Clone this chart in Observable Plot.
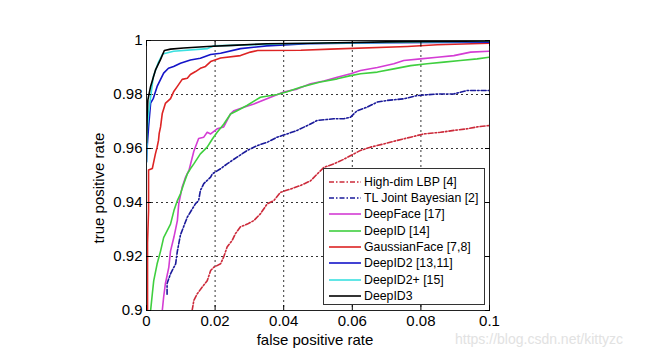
<!DOCTYPE html>
<html>
<head>
<meta charset="utf-8">
<script src="https://cdn.jsdelivr.net/npm/d3@7"></script>
<script src="https://cdn.jsdelivr.net/npm/@observablehq/plot@0.6"></script>
<style>
  html, body { margin: 0; padding: 0; background: #fff; }
  #wrap { position: relative; width: 653px; height: 357px; overflow: hidden; font-family: "Liberation Sans", Arial, sans-serif; }
  .lbl { position: absolute; font-size: 15px; color: #000; white-space: nowrap; }
  #legend { position: absolute; left: 323px; top: 168px; width: 162px; height: 137px; border: 1px solid #333; background: #fff; box-sizing: border-box; }
  .row { position: absolute; left: 0; height: 16px; font-size: 12.3px; line-height: 16px; white-space: nowrap; }
  .row svg { position: absolute; left: 5px; top: 0; }
  .row span { position: absolute; left: 40px; top: 0; }
  #wm { position: absolute; left: 455px; top: 331px; font-size: 14px; color: #e2e2e2; white-space: nowrap; }
</style>
</head>
<body>
<div id="wrap"></div>
<script>
// ---- data ----
const xTicks = [0, 0.02, 0.04, 0.06, 0.08, 0.1];
const yTicks = [0.9, 0.92, 0.94, 0.96, 0.98, 1];

const seriesNames = ["High-dim LBP [4]", "TL Joint Bayesian [2]", "DeepFace [17]", "DeepID [14]",
  "GaussianFace [7,8]", "DeepID2 [13,11]", "DeepID2+ [15]", "DeepID3"];
const seriesColors = ["#cc2a3a", "#1a1a9a", "#d43cd4", "#3fcf3f", "#dd2424", "#1414c8", "#3ae0e0", "#000000"];
const seriesDash = ["5,2,1.5,2", "5,2,1.5,2", null, null, null, null, null, null];

const highDimLBP = [[0.0133,0.9],[0.0138,0.9037],[0.0148,0.9062],[0.0162,0.9086],[0.0177,0.911],[0.0187,0.9148],
  [0.0196,0.916],[0.0216,0.9173],[0.0225,0.9198],[0.0235,0.9235],[0.025,0.926],[0.0259,0.9284],[0.0274,0.931],
  [0.0294,0.932],[0.0313,0.9333],[0.0332,0.9358],[0.0352,0.9395],[0.0371,0.9407],[0.0391,0.9438],[0.042,0.945],
  [0.0449,0.9463],[0.0478,0.948],[0.0498,0.9506],[0.0517,0.953],[0.0546,0.9543],[0.0575,0.956],[0.0624,0.9593],
  [0.0653,0.9605],[0.0692,0.9617],[0.0731,0.963],[0.077,0.9642],[0.0808,0.9654],[0.0857,0.966],[0.0896,0.9667],
  [0.0935,0.9673],[0.0964,0.968],[0.1,0.9685]];

const tlJointBayesian = [[0.006,0.906],[0.006,0.91],[0.007,0.9136],[0.0085,0.9173],[0.009,0.922],[0.0099,0.928],
  [0.0119,0.9346],[0.0143,0.9396],[0.0152,0.9407],[0.0157,0.9444],[0.0167,0.947],[0.0187,0.9494],[0.0192,0.9506],
  [0.0216,0.9525],[0.0235,0.9543],[0.0264,0.9568],[0.0294,0.9593],[0.0323,0.9611],[0.0352,0.9623],[0.0381,0.9642],
  [0.041,0.9654],[0.0439,0.9667],[0.0469,0.9685],[0.0498,0.9704],[0.0546,0.971],[0.0575,0.971],[0.0595,0.9716],
  [0.0614,0.974],[0.0643,0.9753],[0.0673,0.9772],[0.0702,0.9778],[0.075,0.9784],[0.0789,0.9796],[0.0848,0.9802],
  [0.0896,0.9802],[0.0935,0.9815],[0.1,0.9815]];

const deepFace = [[0.0046,0.9],[0.005,0.905],[0.0055,0.9099],[0.0065,0.916],[0.007,0.922],[0.008,0.9272],
  [0.009,0.9333],[0.0094,0.9395],[0.0104,0.9457],[0.0114,0.9494],[0.0124,0.952],[0.0128,0.954],[0.0138,0.959],
  [0.0152,0.9637],[0.0167,0.9642],[0.0177,0.966],[0.0187,0.9654],[0.0206,0.9673],[0.0225,0.968],[0.0245,0.9728],
  [0.0255,0.974],[0.0284,0.9753],[0.0313,0.9765],[0.0362,0.979],[0.04,0.9809],[0.0439,0.982],[0.0478,0.984],
  [0.0517,0.985],[0.0556,0.9864],[0.0595,0.9877],[0.0624,0.9889],[0.0673,0.99],[0.0721,0.9914],[0.075,0.9926],
  [0.0799,0.9932],[0.0848,0.9938],[0.0896,0.9944],[0.0945,0.9957],[0.1,0.996]];

const deepID = [[0.0012,0.9],[0.0017,0.9062],[0.0021,0.911],[0.0031,0.9173],[0.0041,0.922],[0.005,0.927],
  [0.007,0.932],[0.008,0.937],[0.009,0.9407],[0.0099,0.9432],[0.0109,0.947],[0.0119,0.9506],[0.0128,0.9525],
  [0.0138,0.9543],[0.0157,0.958],[0.0177,0.9605],[0.0192,0.9635],[0.0206,0.966],[0.0225,0.969],[0.0245,0.9728],
  [0.0264,0.974],[0.0294,0.976],[0.0332,0.979],[0.0381,0.980],[0.041,0.981],[0.0449,0.9827],[0.0507,0.9846],
  [0.0556,0.9858],[0.0595,0.987],[0.0624,0.9877],[0.0673,0.9883],[0.0721,0.9895],[0.077,0.9907],[0.0818,0.9914],
  [0.0867,0.992],[0.0915,0.9926],[0.0964,0.9932],[0.1,0.9938]];

const gaussianFace = [[0.0003,0.9],[0.0003,0.925],[0.0006,0.937],[0.0006,0.952],[0.0017,0.9526],[0.002,0.9544],
  [0.0026,0.958],[0.0031,0.9605],[0.0035,0.963],[0.0037,0.9656],[0.0041,0.968],[0.0046,0.973],[0.0055,0.9767],
  [0.007,0.9785],[0.0079,0.981],[0.009,0.983],[0.0104,0.9856],[0.0119,0.986],[0.0128,0.9874],[0.0143,0.9885],
  [0.0157,0.9897],[0.0172,0.9904],[0.0187,0.9922],[0.0216,0.9935],[0.0274,0.9944],[0.0303,0.9957],[0.0324,0.9963],
  [0.045,0.9964],[0.0536,0.9968],[0.0761,0.9978],[0.0848,0.9984],[0.1,0.999]];

const deepID2 = [[0,0.955],[0.0002,0.9607],[0.0006,0.968],[0.0012,0.9768],[0.002,0.9786],[0.0031,0.983],
  [0.0041,0.9856],[0.005,0.9879],[0.0064,0.9897],[0.0079,0.9904],[0.0099,0.9916],[0.0128,0.9928],[0.0157,0.9934],
  [0.0187,0.9948],[0.0216,0.9953],[0.0274,0.997],[0.035,0.998],[0.0469,0.9988],[0.07,0.9992],[0.1,0.9994]];

const deepID2plus = [[0,0.955],[0.0002,0.967],[0.0006,0.973],[0.0012,0.979],[0.002,0.9867],[0.0035,0.992],
  [0.0047,0.995],[0.0079,0.996],[0.0178,0.997],[0.0195,0.998],[0.04,0.9988],[0.07,0.9993],[0.1,0.9997]];

const deepID3 = [[0,0.962],[0.0002,0.972],[0.0004,0.978],[0.0012,0.983],[0.0026,0.989],[0.0041,0.993],
  [0.0052,0.9963],[0.007,0.9968],[0.0108,0.9972],[0.0178,0.9978],[0.025,0.9982],[0.035,0.9988],[0.048,0.999],
  [0.07,0.9995],[0.1,0.9998]];

const seriesData = [highDimLBP, tlJointBayesian, deepFace, deepID, gaussianFace, deepID2, deepID2plus, deepID3];

// ---- chart ----
const fmt = d => String(+d.toFixed(3));
const lineMarks = seriesData.map((data, i) => Plot.line(data, {
  x: d => d[0], y: d => d[1],
  stroke: seriesColors[i], strokeWidth: 1.6,
  strokeDasharray: seriesDash[i] || undefined,
  clip: true
}));

const chart = Plot.plot({
  width: 653, height: 357,
  marginLeft: 146, marginRight: 164, marginTop: 40, marginBottom: 47,
  x: {domain: [0, 0.1]},
  y: {domain: [0.9, 1]},
  style: {fontFamily: "'Liberation Sans', Arial, sans-serif", fontSize: "15px", background: "#fff", color: "#000"},
  marks: [
    Plot.gridX(xTicks.slice(1, -1), {stroke: "#000", strokeOpacity: 1, strokeWidth: 0.8, strokeDasharray: "2,3"}),
    Plot.gridY(yTicks.slice(1, -1), {stroke: "#000", strokeOpacity: 1, strokeWidth: 0.8, strokeDasharray: "2,3"}),
    ...lineMarks,
    Plot.frame({stroke: "#222"}),
    Plot.axisX(xTicks, {anchor: "bottom", tickSize: -5, tickPadding: 10, tickFormat: fmt, label: null}),
    Plot.axisX(xTicks, {anchor: "top", tickSize: -5, tickFormat: () => "", label: null}),
    Plot.axisY(yTicks, {anchor: "left", tickSize: -5, tickPadding: 9, tickFormat: fmt, label: null}),
    Plot.axisY(yTicks, {anchor: "right", tickSize: -5, tickFormat: () => "", label: null})
  ]
});

const wrap = document.getElementById("wrap");
wrap.appendChild(chart);

// axis titles
const xl = document.createElement("div");
xl.className = "lbl"; xl.textContent = "false positive rate";
xl.style.left = "315px"; xl.style.top = "339px"; xl.style.transform = "translate(-50%,-50%)";
wrap.appendChild(xl);
const yl = document.createElement("div");
yl.className = "lbl"; yl.textContent = "true positive rate";
yl.style.left = "98px"; yl.style.top = "188px"; yl.style.transform = "translate(-50%,-50%) rotate(-90deg)";
wrap.appendChild(yl);

// legend
const legend = document.createElement("div");
legend.id = "legend";
seriesNames.forEach((name, i) => {
  const row = document.createElement("div");
  row.className = "row";
  row.style.top = (4.7 + i * 16.35) + "px";
  const dash = seriesDash[i] ? `stroke-dasharray="${seriesDash[i]}"` : "";
  row.innerHTML = `<svg width="32" height="16"><line x1="0" x2="32" y1="8" y2="8" stroke="${seriesColors[i]}" stroke-width="1.6" ${dash}/></svg><span>${name}</span>`;
  legend.appendChild(row);
});
wrap.appendChild(legend);

const wm = document.createElement("div");
wm.id = "wm"; wm.textContent = "https://blog.csdn.net/kittyzc";
wrap.appendChild(wm);
</script>
</body>
</html>
